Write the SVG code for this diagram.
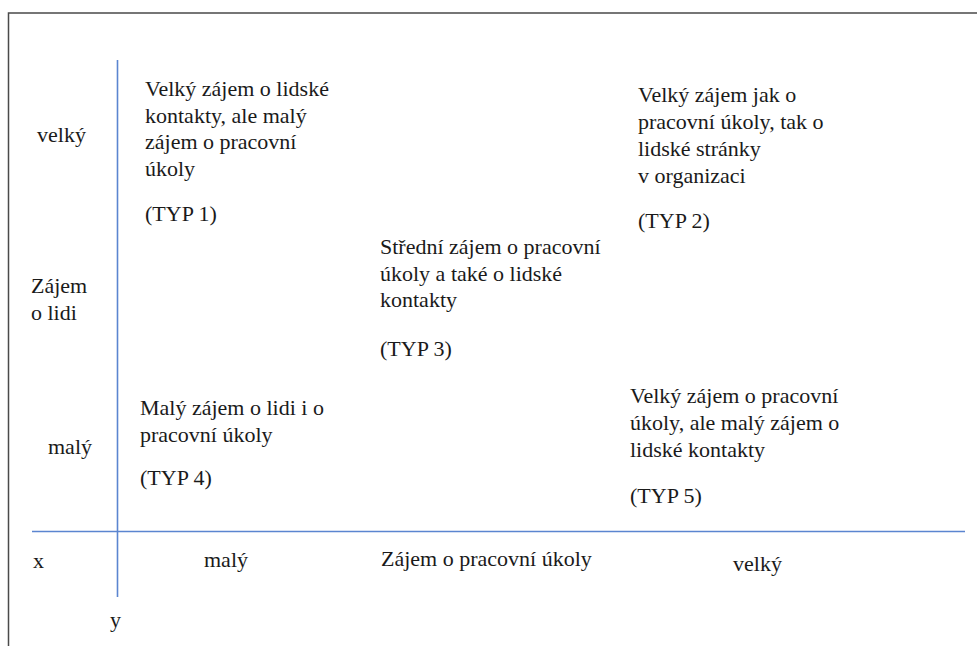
<svg xmlns="http://www.w3.org/2000/svg" width="977" height="646" viewBox="0 0 977 646">
  <style>
    text { font-family: 'Liberation Serif', 'Times New Roman', serif; font-size: 22px; fill: #1a1a1a; }
    .frame { stroke: #4a4a4a; stroke-width: 1.5; fill: none; }
    .axis { stroke: #5b85d0; stroke-width: 1.6; fill: none; }
  </style>
  <rect width="977" height="646" fill="#ffffff"/>

  <!-- page frame -->
  <path class="frame" d="M8.5,646 V13 H977"/>

  <g id="axes">
    <line class="axis" x1="117.5" y1="60" x2="117.5" y2="597"/>
    <line class="axis" x1="32" y1="531.5" x2="965" y2="531.5"/>
  </g>

  <!-- axis labels -->
  <g id="y-labels">
    <text x="37" y="142">velký</text>
    <text x="31" y="293">Zájem</text>
    <text x="31" y="320">o lidi</text>
    <text x="48" y="454">malý</text>
  </g>
  <g id="x-labels">
    <text x="33" y="568">x</text>
    <text x="204" y="567">malý</text>
    <text x="381" y="566">Zájem o pracovní úkoly</text>
    <text x="733" y="571">velký</text>
    <text x="110" y="627">y</text>
  </g>

  <g id="typ1">
    <text x="145" y="96">Velký zájem o lidské</text>
    <text x="145" y="123">kontakty, ale malý</text>
    <text x="145" y="149">zájem o pracovní</text>
    <text x="145" y="176">úkoly</text>
    <text x="145" y="221">(TYP 1)</text>
  </g>
  <g id="typ2">
    <text x="638" y="102">Velký zájem jak o</text>
    <text x="638" y="129">pracovní úkoly, tak o</text>
    <text x="638" y="156">lidské stránky</text>
    <text x="638" y="183">v organizaci</text>
    <text x="638" y="228">(TYP 2)</text>
  </g>
  <g id="typ3">
    <text x="380" y="254">Střední zájem o pracovní</text>
    <text x="380" y="281">úkoly a také o lidské</text>
    <text x="380" y="307">kontakty</text>
    <text x="380" y="356">(TYP 3)</text>
  </g>
  <g id="typ4">
    <text x="140" y="415">Malý zájem o lidi i o</text>
    <text x="140" y="442">pracovní úkoly</text>
    <text x="140" y="485">(TYP 4)</text>
  </g>
  <g id="typ5">
    <text x="630" y="403">Velký zájem o pracovní</text>
    <text x="630" y="430">úkoly, ale malý zájem o</text>
    <text x="630" y="457">lidské kontakty</text>
    <text x="630" y="503">(TYP 5)</text>
  </g>
</svg>
